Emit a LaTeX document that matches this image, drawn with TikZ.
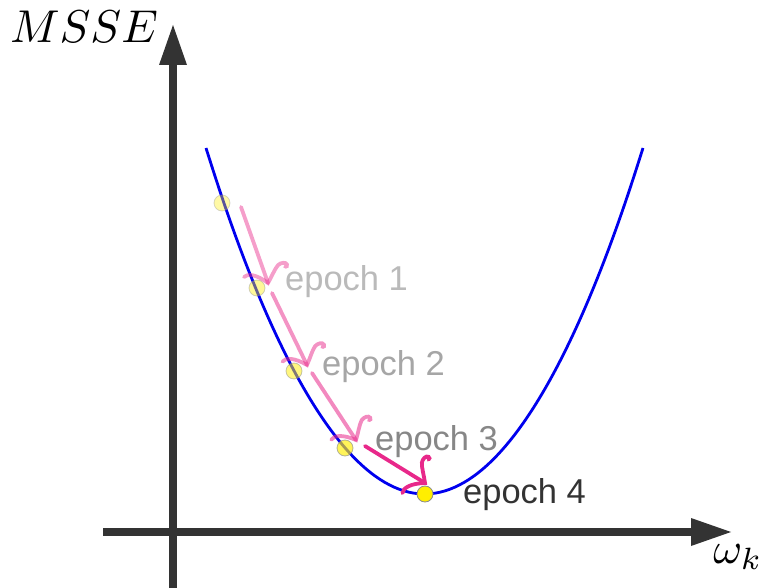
\documentclass[tikz,border=0pt]{standalone}
\usepackage{fontspec}
\setmainfont{Liberation Sans}
\definecolor{axisgray}{HTML}{333333}
\definecolor{curveblue}{HTML}{0000EE}
\definecolor{hotpink}{HTML}{E8288A}
\definecolor{dotyellow}{HTML}{FFEE00}
\tikzset{
  axisline/.style={draw=axisgray, line width=8pt},
  axistip/.style={fill=axisgray, draw=none},
  dot/.style={circle, minimum size=16pt, inner sep=0pt, fill=dotyellow, draw=black!45, line width=0.8pt},
  fadeddot/.style={dot, fill opacity=#1, draw opacity=#1},
  epochlabel/.style={anchor=west, inner sep=0pt, font=\fontsize{34.5}{40}\selectfont},
  axislabel/.style={inner sep=0pt},
  gradarrow/.style={draw=hotpink, line width=3.8pt, line cap=round, draw opacity=#1},
  curlytip/.pic={
    \draw[pic actions] (-13.7,20.6) .. controls (-16,16) and (-12,8) .. (0,0)
      .. controls (-5,-6) and (-11,-11) .. (-13.5,-15.5)
      .. controls (-15,-19) and (-14,-24) .. (-11,-24)
      .. controls (-9.5,-24) and (-9,-23) .. (-9.5,-21.5);
  }
}
\begin{document}
\begin{tikzpicture}[x=1pt,y=-1pt]
\useasboundingbox (0,0) rectangle (761,588);
% axes
\coordinate (ybot) at (173,588);
\coordinate (ytop) at (173,25);
\coordinate (yarr) at (173,62);
\coordinate (xleft) at (103,532);
\coordinate (xtip) at (731,532);
\coordinate (xarr) at (694,532);
\draw[axisline] (ybot) -- (yarr);
\fill[axistip] (ytop) -- ([xshift=-14pt,yshift=-40pt]ytop) -- ([xshift=14pt,yshift=-40pt]ytop) -- cycle;
\draw[axisline] (xleft) -- (xarr);
\fill[axistip] (xtip) -- ([xshift=-40pt,yshift=14pt]xtip) -- ([xshift=-40pt,yshift=-14pt]xtip) -- cycle;
\node[axislabel] (ylab) at (84,27) {\scalebox{4.6}{$MSSE$}};
\node[axislabel] (xlab) at (738,557) {\scalebox{4.4}{$\omega_k$}};
% curve
\coordinate (cl) at (206,148);
\coordinate (cm) at (424.5,494);
\coordinate (cr) at (643,148);
\draw[curveblue, line width=2.8pt] (cl) parabola bend (cm) (cr);
% dots
\node[fadeddot=0.35] (d0) at (222,203) {};
\node[fadeddot=0.4] (d1) at (257,288) {};
\node[fadeddot=0.5] (d2) at (294,371) {};
\node[fadeddot=0.65] (d3) at (345,448) {};
\node[dot] (d4) at (425,494) {};
% labels
\node[epochlabel, text=black!27] (l1) at (285,282) {epoch 1};
\node[epochlabel, text=black!35] (l2) at (322,367) {epoch 2};
\node[epochlabel, text=black!47] (l3) at (375,442) {epoch 3};
\node[epochlabel, text=black!80] (l4) at (463,495) {epoch 4};
% gradient steps
\coordinate (s1) at (241,207); \coordinate (t1) at (268,283);
\coordinate (s2) at (272,293); \coordinate (t2) at (307,365);
\coordinate (s3) at (312,373); \coordinate (t3) at (356,440);
\coordinate (s4) at (365,446); \coordinate (t4) at (425,483);
\draw[gradarrow=0.45] (s1) -- (t1);
\pic[gradarrow=0.45, rotate=-70.4] at (t1) {curlytip};
\draw[gradarrow=0.5] (s2) -- (t2);
\pic[gradarrow=0.5, rotate=-64.4] at (t2) {curlytip};
\draw[gradarrow=0.55] (s3) -- (t3);
\pic[gradarrow=0.55, rotate=-57.1] at (t3) {curlytip};
\draw[gradarrow=1] (s4) -- (t4);
\pic[gradarrow=1, rotate=-32.3] at (t4) {curlytip};
\end{tikzpicture}
\end{document}
